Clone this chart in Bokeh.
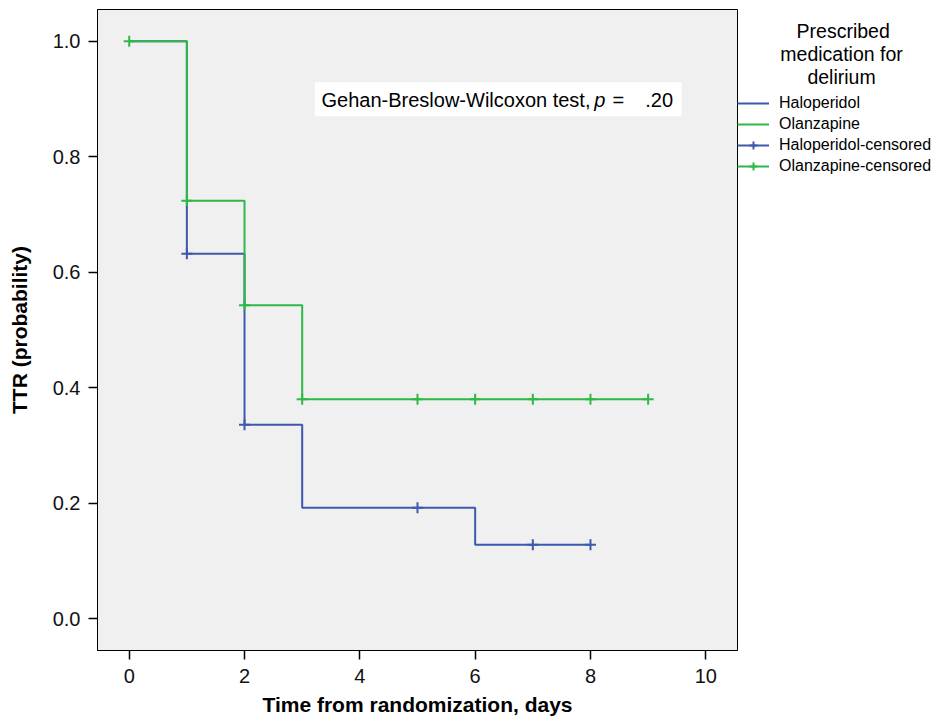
from bokeh.plotting import figure
from bokeh.models import (Range1d, FixedTicker, Legend, LegendItem, Label,
                          BoxAnnotation, CustomJSTickFormatter)
from bokeh.embed import file_html
from bokeh.resources import INLINE

# ---- data ----
hal_times = [0, 1, 2, 3, 6, 8]
hal_surv = [1.0, 0.632, 0.336, 0.192, 0.128, 0.128]
olz_times = [0, 1, 2, 3, 9]
olz_surv = [1.0, 0.724, 0.543, 0.380, 0.380]
hal_cens_t = [1, 2, 5, 7, 8]
hal_cens_s = [0.632, 0.336, 0.192, 0.128, 0.128]
olz_cens_t = [0, 1, 2, 3, 5, 6, 7, 8, 9]
olz_cens_s = [1.0, 0.724, 0.543, 0.380, 0.380, 0.380, 0.380, 0.380, 0.380]
x_ticks = [0, 2, 4, 6, 8, 10]
y_ticks = [0.0, 0.2, 0.4, 0.6, 0.8, 1.0]
legend_title_lines = ["Prescribed", "medication for", "delirium"]

BLUE = "#3E58AC"
GREEN = "#2EB848"
FONT = "Liberation Sans"

p = figure(frame_width=640, frame_height=641, output_backend="svg",
           toolbar_location=None, x_range=Range1d(-0.55, 10.55),
           y_range=Range1d(-0.055, 1.055),
           min_border_left=97, min_border_top=9, min_border_right=180,
           min_border_bottom=0)

p.background_fill_color = "#F0F0F0"
p.border_fill_color = "white"
p.outline_line_color = "black"
p.outline_line_width = 1
p.grid.visible = False

for ax in (p.xaxis[0], p.yaxis[0]):
    ax.major_tick_out = 9
    ax.major_tick_in = 0
    ax.minor_tick_line_color = None
    ax.major_tick_line_color = "black"
    ax.major_tick_line_width = 1.5
    ax.axis_line_color = "black"
    ax.major_label_text_font = FONT
    ax.major_label_text_font_size = "20px"
    ax.major_label_text_color = "#111111"
    ax.axis_label_text_font = FONT
    ax.axis_label_text_font_size = "21px"
    ax.axis_label_text_font_style = "bold"
    ax.axis_label_text_color = "black"

p.xaxis.ticker = FixedTicker(ticks=x_ticks)
p.yaxis.ticker = FixedTicker(ticks=y_ticks)
p.yaxis.formatter = CustomJSTickFormatter(code="return tick.toFixed(1);")
p.xaxis.axis_label = "Time from randomization, days"
p.yaxis.axis_label = "TTR (probability)"
p.xaxis.major_label_standoff = 9
p.xaxis.axis_label_standoff = 7
p.yaxis.major_label_standoff = 8
p.yaxis.axis_label_standoff = 19

# ---- curves ----
hal_line = p.step(hal_times, hal_surv, mode="after", line_color=BLUE, line_width=2)
hal_cens = p.scatter(hal_cens_t, hal_cens_s, marker="cross", size=11,
                     line_color=BLUE, line_width=2)
olz_line = p.step(olz_times, olz_surv, mode="after", line_color=GREEN, line_width=2)
olz_cens = p.scatter(olz_cens_t, olz_cens_s, marker="cross", size=11,
                     line_color=GREEN, line_width=2)

legend = Legend(items=[
    LegendItem(label="Haloperidol", renderers=[hal_line]),
    LegendItem(label="Olanzapine", renderers=[olz_line]),
    LegendItem(label="Haloperidol-censored", renderers=[hal_line, hal_cens]),
    LegendItem(label="Olanzapine-censored", renderers=[olz_line, olz_cens]),
], location=(0, 474))
# centre each title line by padding with no-break spaces
NBSP = "\u00a0"
pads = [11, 8, 13]
legend.title = "\n".join(NBSP * n + t for n, t in zip(pads, legend_title_lines))
legend.title_text_font = FONT
legend.title_text_font_size = "19.5px"
legend.title_text_font_style = "normal"
legend.title_text_color = "black"
legend.title_text_line_height = 1.2
legend.title_standoff = 4
legend.margin = 0
legend.padding = 0
legend.spacing = 1
legend.glyph_width = 32
legend.glyph_height = 20
legend.label_height = 20
legend.label_standoff = 10
legend.label_text_font = FONT
legend.label_text_font_size = "16px"
legend.label_text_color = "black"
legend.border_line_color = None
legend.background_fill_alpha = 0
p.add_layout(legend, "right")

# test annotation
p.add_layout(BoxAnnotation(left=3.22, right=9.58, top=0.929, bottom=0.870,
                           fill_color="white", fill_alpha=1, line_color=None))
ann_y = 0.899
ann_font = "20px"
p.add_layout(Label(x=3.335, y=ann_y, text="Gehan-Breslow-Wilcoxon test,",
                   text_baseline="middle", text_font=FONT, text_font_size=ann_font,
                   text_color="black"))
p.add_layout(Label(x=8.067, y=ann_y, text="p", text_baseline="middle",
                   text_font=FONT, text_font_size=ann_font, text_font_style="italic",
                   text_color="black"))
p.add_layout(Label(x=8.38, y=ann_y, text="=", text_baseline="middle",
                   text_font=FONT, text_font_size=ann_font, text_color="black"))
p.add_layout(Label(x=8.95, y=ann_y, text=".20", text_baseline="middle",
                   text_font=FONT, text_font_size=ann_font, text_color="black"))

open("out.html", "w").write(file_html(p, INLINE))
